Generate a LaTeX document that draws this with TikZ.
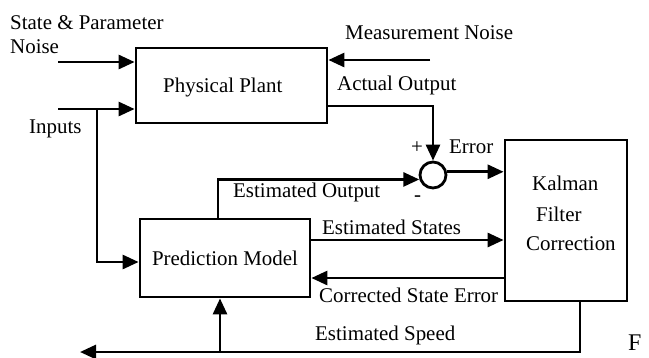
\documentclass[tikz,border=0pt]{standalone}
\usepackage{fontspec}
\setmainfont{Liberation Serif}
\usetikzlibrary{arrows.meta}
\begin{document}
\begin{tikzpicture}[x=1bp,y=-1bp,
  lw/.style={line width=2.8bp},
  box/.style={draw,lw,rectangle,inner sep=0pt,font=\fontsize{21}{24}\selectfont},
  conn/.style={lw,-{Triangle[length=16bp,width=14bp]}},
  lbl/.style={font=\fontsize{21}{24}\selectfont,inner sep=0pt,anchor=base west},
]
\useasboundingbox (0,0) rectangle (649,357);
% blocks
\node[box,minimum width=191bp,minimum height=75bp] (plant) at (231.5,85.5) {};
\node[lbl] (tplant) at (163,92) {Physical Plant};
\node[box,minimum width=170bp,minimum height=78bp] (pred) at (225,258) {Prediction Model};
\node[box,minimum width=122bp,minimum height=161bp] (kal) at (566,220.5) {};
\node[lbl] (tk1) at (532,190) {Kalman};
\node[lbl] (tk2) at (536,221) {Filter};
\node[lbl] (tk3) at (526,250) {Correction};
\node[draw,lw,circle,minimum size=26bp,inner sep=0pt] (sum) at (433,175) {};
% coordinates
\coordinate (spn) at (58,62);
\coordinate (inp) at (58,109);
\coordinate (br) at (97,109);
\coordinate (mn) at (430,60);
\coordinate (ao) at (327,106);
\coordinate (eo) at (218,219);
\coordinate (es) at (310,240);
\coordinate (cs) at (505,278);
\coordinate (sp) at (580,301);
\coordinate (spend) at (80,352);
\coordinate (spbr) at (220,352);
% connectors
\draw[conn] (spn) -- (spn -| plant.west);
\draw[conn] (inp) -- (inp -| plant.west);
\draw[conn] (br) |- ([yshift=-4bp]pred.west);
\draw[conn] (mn) -- (mn -| plant.east);
\draw[conn] (ao) -| (sum.north);
\draw[conn] (eo) |- (sum.198);
\draw[conn] (sum.13) -- (sum.13 -| kal.west);
\draw[conn] (es) -- (es -| kal.west);
\draw[conn] (cs) -- (cs -| pred.east);
\draw[conn] (sp) |- (spend);
\draw[conn] (spbr) -- (pred.south -| spbr);
% labels
\node[lbl] (l1) at (10,29) {State \& Parameter};
\node[lbl] (l2) at (10,53) {Noise};
\node[lbl] (l3) at (29,133) {Inputs};
\node[lbl] (l4) at (345,39) {Measurement Noise};
\node[lbl] (l5) at (337,90) {Actual Output};
\node[lbl] (l6) at (411,153) {+};
\node[lbl] (l7) at (449,153) {Error};
\node[lbl] (l8) at (233,197) {Estimated Output};
\node[lbl] (l9) at (414,201) {-};
\node[lbl] (l10) at (322,234) {Estimated States};
\node[lbl] (l11) at (319,302) {Corrected State Error};
\node[lbl] (l12) at (315,340) {Estimated Speed};
\node[lbl,font=\fontsize{24}{28}\selectfont] (l13) at (628,350) {F};
\end{tikzpicture}
\end{document}
